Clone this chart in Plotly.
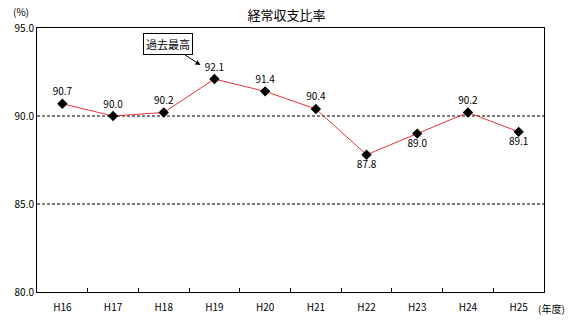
import plotly.graph_objects as go

categories = ["H16", "H17", "H18", "H19", "H20", "H21", "H22", "H23", "H24", "H25"]
values = [90.7, 90.0, 90.2, 92.1, 91.4, 90.4, 87.8, 89.0, 90.2, 89.1]
label_pos = ["top center", "top center", "top center", "top center", "top center",
             "top center", "bottom center", "bottom center", "top center", "bottom center"]
y_ticks = [80, 85, 90, 95]
y_tick_text = ["80.0", "85.0", "90.0", "95.0"]

FONT = "Noto Sans CJK JP"

fig = go.Figure()
fig.add_trace(go.Scatter(
    x=categories, y=values, mode="lines+markers+text",
    line=dict(color="#e8333a", width=1),
    marker=dict(symbol="diamond", size=8, color="black"),
    text=[f"{v:.1f}" for v in values],
    textposition=label_pos,
    textfont=dict(family=FONT, size=10, color="black"),
    cliponaxis=False,
    showlegend=False,
))

for yv in [85, 90]:
    fig.add_shape(type="line", xref="paper", x0=0, x1=1, yref="y", y0=yv, y1=yv,
                  line=dict(color="black", width=1, dash="3px,2px"), layer="below")

fig.add_annotation(
    x="H19", y=92.1, xref="x", yref="y",
    text="過去最高", showarrow=True, arrowhead=2, arrowsize=1, arrowwidth=1,
    arrowcolor="black", ax=-32, ay=-21, xshift=-14, yshift=14,
    bordercolor="black", borderwidth=1, borderpad=2, bgcolor="white",
    font=dict(family=FONT, size=11, color="black"),
)
fig.add_annotation(x=0, y=1, xref="paper", yref="paper", xanchor="right", yanchor="bottom",
                   xshift=-6, yshift=7, text="(%)", showarrow=False,
                   font=dict(family=FONT, size=10, color="black"))
fig.add_annotation(x=1, y=0, xref="paper", yref="paper", xanchor="left", yanchor="top",
                   xshift=-8, yshift=-7, text="(年度)", showarrow=False,
                   font=dict(family=FONT, size=10, color="black"))

fig.update_layout(
    width=573, height=334,
    margin=dict(l=37, r=29, t=28, b=42),
    paper_bgcolor="white", plot_bgcolor="white",
    title=dict(text="経常収支比率", x=0.5, xanchor="center", y=0.955, yanchor="middle",
               font=dict(family=FONT, size=13, color="black")),
    font=dict(family=FONT, size=10, color="black"),
    xaxis=dict(type="category", range=[-0.5, 9.5], showgrid=False,
               showline=True, linecolor="black", linewidth=1, mirror=True,
               ticks="inside", ticklen=4, tickcolor="black", tickson="boundaries",
               ticklabelstandoff=6,
               tickfont=dict(family=FONT, size=10)),
    yaxis=dict(range=[80, 95], tickvals=y_ticks, ticktext=y_tick_text, showgrid=False,
               showline=True, linecolor="black", linewidth=1, mirror=True,
               ticks="", zeroline=False, tickfont=dict(family=FONT, size=10)),
)

fig.write_html("out.html")
